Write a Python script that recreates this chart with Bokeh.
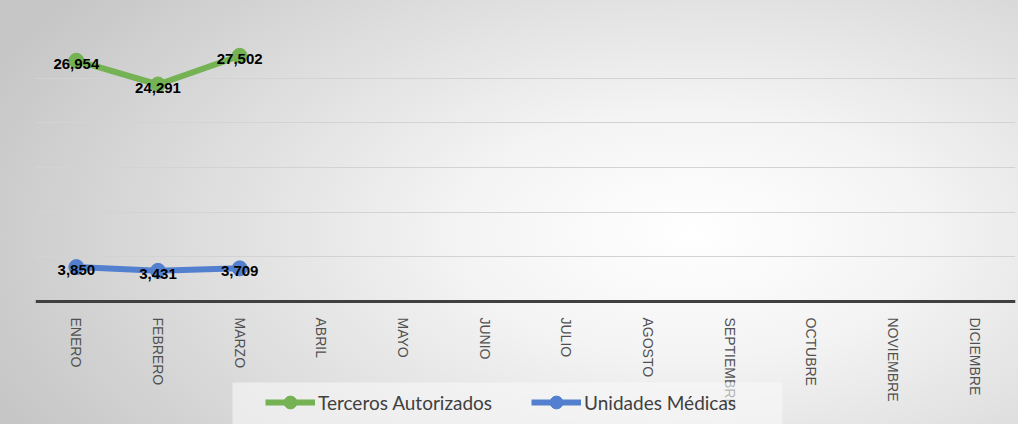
import math
from bokeh.plotting import figure
from bokeh.models import (FactorRange, Range1d, ColumnDataSource, Legend, LegendItem,
                          FixedTicker)
from bokeh.core.properties import value
from bokeh.embed import file_html
from bokeh.resources import INLINE

months = ["ENERO", "FEBRERO", "MARZO", "ABRIL", "MAYO", "JUNIO", "JULIO",
          "AGOSTO", "SEPTIEMBRE", "OCTUBRE", "NOVIEMBRE", "DICIEMBRE"]
data_months = ["ENERO", "FEBRERO", "MARZO"]
terceros = [26954, 24291, 27502]
unidades = [3850, 3431, 3709]
y_ticks = [0, 5000, 10000, 15000, 20000, 25000, 30000]

green = "#74b254"
blue = "#5280cf"

W, H = 1018, 424
left_pad, right_pad = 35, 3
top_pad = 33          # px above the 30000 line
axis_px = 301         # px from top where value 0 sits
y_max = 30000
px_per_unit = (axis_px - top_pad) / y_max
y_min = -(H - axis_px) / px_per_unit
frame_w = W - left_pad - right_pad
n = len(months)

def sx(px):  # canvas px -> categorical synthetic x
    return (px - left_pad) / frame_w * n

def sy(py):  # canvas px -> data y
    return (axis_px - py) / px_per_unit

p = figure(width=W, height=H, x_range=FactorRange(*months),
           y_range=Range1d(y_min, y_max), output_backend="svg", toolbar_location=None,
           min_border_left=left_pad, min_border_right=right_pad, min_border_top=top_pad,
           min_border_bottom=0)
p.background_fill_color = None
p.border_fill_color = None
p.outline_line_color = None
p.styles = {"background": "radial-gradient(ellipse 75% 95% at 68% 55%, #ffffff 0%, #f4f4f4 30%, #dadada 70%, #c6c6c6 100%)"}

p.yaxis.visible = False
p.xgrid.visible = False
p.ygrid.ticker = FixedTicker(ticks=y_ticks)
p.ygrid.grid_line_color = "#d3d3d3"
p.ygrid.grid_line_width = 1

ax = p.xaxis[0]
ax.fixed_location = 0
ax.axis_line_color = "#404040"
ax.axis_line_width = 3
ax.major_tick_line_color = None
ax.minor_tick_line_color = None
ax.major_label_orientation = -math.pi / 2
ax.major_label_standoff = 10
ax.major_label_text_font = "Liberation Sans"
ax.major_label_text_font_size = "14px"
ax.major_label_text_color = "#505050"

# legend background panel (drawn over the axis labels, as in the original)
p.quad(left=[sx(232)], right=[sx(782)], top=[sy(382)], bottom=[sy(425)],
       fill_color="#f8f8f8", fill_alpha=0.6, line_color=None, level="annotation")

src_t = ColumnDataSource(dict(x=data_months, y=terceros, t=[f"{v:,}" for v in terceros]))
src_u = ColumnDataSource(dict(x=data_months, y=unidades, t=[f"{v:,}" for v in unidades]))

lt = p.line("x", "y", source=src_t, line_color=green, line_width=6)
st = p.scatter("x", "y", source=src_t, size=15, fill_color=green, line_color=green)
lu = p.line("x", "y", source=src_u, line_color=blue, line_width=6)
su = p.scatter("x", "y", source=src_u, size=15, fill_color=blue, line_color=blue)

for src in (src_t, src_u):
    p.text("x", "y", text="t", source=src, text_align="center", text_baseline="middle",
           y_offset=3, text_font=value("Liberation Sans"), text_font_style="bold",
           text_font_size="15px", text_color="#000000")

legend = Legend(items=[LegendItem(label="Terceros Autorizados", renderers=[lt, st]),
                       LegendItem(label="Unidades Médicas", renderers=[lu, su])],
                orientation="horizontal", location=(230, 6))
legend.background_fill_alpha = 0
legend.border_line_color = None
legend.label_text_font = "Lato"
legend.label_text_font_size = "19px"
legend.label_text_color = "#404040"
legend.glyph_width = 50
legend.glyph_height = 32
legend.label_height = 32
legend.label_standoff = 3
legend.spacing = 39
legend.padding = 0
legend.margin = 0
p.add_layout(legend)

open("out.html", "w").write(file_html(p, INLINE))
